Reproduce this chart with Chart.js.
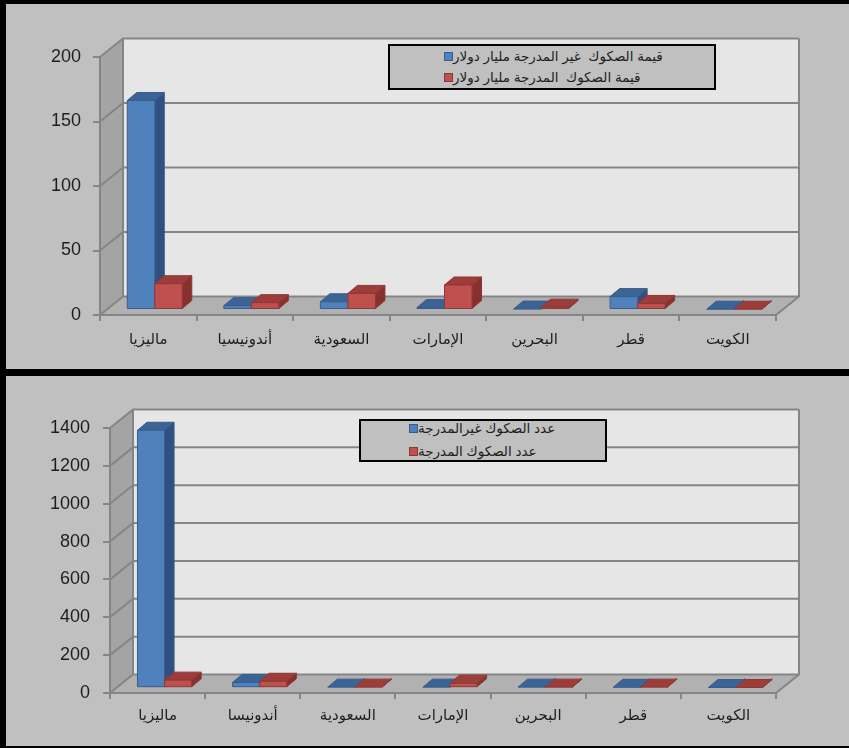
<!DOCTYPE html>
<html>
<head>
<meta charset="utf-8">
<script src="https://cdn.jsdelivr.net/npm/chart.js@4.4.1/dist/chart.umd.min.js"></script>
<style>
    body { margin: 0; background: #000; width: 849px; height: 748px; overflow: hidden; position: relative; font-family: "Liberation Sans", "DejaVu Sans", sans-serif; }
    .panel { position: absolute; left: 6px; width: 843px; background: #c0c0c0; }
    #panel-value { top: 4px; height: 365px; }
    #panel-count { top: 376px; height: 370px; }
    .panel canvas { position: absolute; left: 0; top: 0; }
    .legend { position: absolute; border: 2px solid #000; background: #c0c0c0; box-sizing: border-box; }
    .legend .row { position: absolute; display: flex; align-items: center; height: 18px; }
    .legend .swatch { width: 7px; height: 7px; border: 1px solid; flex: none; }
    .legend .txt { direction: rtl; font-size: 13.5px; color: #1e1e1e; white-space: pre; }
</style>
</head>
<body>
<div class="panel" id="panel-value">
    <canvas id="valueChart" width="843" height="365"></canvas>
    <div class="legend" id="legend-value" style="left:382px; top:40px; width:328px; height:46px;"></div>
</div>
<div class="panel" id="panel-count">
    <canvas id="countChart" width="843" height="370"></canvas>
    <div class="legend" id="legend-count" style="left:353px; top:43px; width:248px; height:43px;"></div>
</div>

<script>
// Countries on the category axis
const valueCountries = ['ماليزيا', 'أندونيسيا', 'السعودية', 'الإمارات', 'البحرين', 'قطر', 'الكويت'];
const countCountries = ['ماليزيا', 'أندونيسا', 'السعودية', 'الإمارات', 'البحرين', 'قطر', 'الكويت'];

// Sukuk value, billion dollars
const unlistedValue = [162, 3, 6, 1.5, 0.3, 10, 0.2];
const listedValue = [20, 5.3, 12.5, 19, 1.8, 4.7, 0.2];

// Number of sukuk issues
const unlistedCount = [1360, 28, 3, 3, 3, 2, 1];
const listedCount = [40, 34, 3, 24, 3, 3, 1];

const valueLegend = ['قيمة الصكوك  غير المدرجة مليار دولار', 'قيمة الصكوك  المدرجة مليار دولار'];
const countLegend = ['عدد الصكوك غيرالمدرجة', 'عدد الصكوك المدرجة'];

const valueTicks = { max: 200, step: 50 };
const countTicks = { max: 1400, step: 200 };

const BLUE = { front: '#4f81bd', top: '#3b6496', side: '#2f5080', edge: '#385d8a' };
const RED = { front: '#c0504d', top: '#9d3d3a', side: '#89302e', edge: '#8c3836' };

const GRID = '#858585';

// Draws back wall, side wall, floor and their gridlines behind the scales
function drawWalls(chart, opts) {
    const ctx = chart.ctx;
    const { left, right, top, bottom } = chart.chartArea;
    const { dx, dy } = opts.depth;
    const y = chart.scales.y;

    ctx.save();
    ctx.fillStyle = '#e6e6e6';
    ctx.fillRect(left + dx, top + dy, right - left, bottom - top);

    ctx.fillStyle = '#a4a4a4';
    ctx.beginPath();
    ctx.moveTo(left, top);
    ctx.lineTo(left + dx, top + dy);
    ctx.lineTo(left + dx, bottom + dy);
    ctx.lineTo(left, bottom);
    ctx.closePath();
    ctx.fill();

    ctx.fillStyle = '#b1b1b1';
    ctx.beginPath();
    ctx.moveTo(left, bottom);
    ctx.lineTo(right, bottom);
    ctx.lineTo(right + dx, bottom + dy);
    ctx.lineTo(left + dx, bottom + dy);
    ctx.closePath();
    ctx.fill();

    ctx.strokeStyle = GRID;
    ctx.lineWidth = 2;
    y.ticks.forEach(t => {
        const py = y.getPixelForValue(t.value);
        ctx.beginPath();
        ctx.moveTo(left, py);
        ctx.lineTo(left + dx, py + dy);
        ctx.lineTo(right + dx, py + dy);
        ctx.stroke();
    });

    ctx.beginPath();
    ctx.moveTo(right + dx, top + dy);
    ctx.lineTo(right + dx, bottom + dy);
    ctx.lineTo(right, bottom);
    ctx.stroke();

    ctx.beginPath();
    ctx.moveTo(left + dx, top + dy);
    ctx.lineTo(left + dx, bottom + dy);
    ctx.stroke();
    ctx.restore();
}

function poly(ctx, pts, fill, edge) {
    ctx.beginPath();
    ctx.moveTo(pts[0][0], pts[0][1]);
    for (let i = 1; i < pts.length; i++) ctx.lineTo(pts[i][0], pts[i][1]);
    ctx.closePath();
    ctx.fillStyle = fill;
    ctx.fill();
    ctx.strokeStyle = edge;
    ctx.lineWidth = 1;
    ctx.stroke();
}

// Boxes for each bar: front face, right side, top face
function drawBars(chart, opts) {
    const ctx = chart.ctx;
    const { fx, fy, bx, by } = opts.bar;
    const metas = chart.data.datasets.map((d, i) => chart.getDatasetMeta(i));
    const count = chart.data.labels.length;

    ctx.save();
    for (let i = 0; i < count; i++) {
        metas.forEach((meta, di) => {
            const c = chart.data.datasets[di].shades;
            const p = meta.data[i].getProps(['x', 'y', 'base', 'width'], true);
            const L = p.x - p.width / 2 + fx;
            const R = p.x + p.width / 2 + fx;
            const T = p.y + fy;
            const B = p.base + fy;

            poly(ctx, [[R, T], [R + bx, T + by], [R + bx, B + by], [R, B]], c.side, c.edge);
            poly(ctx, [[L, T], [R, T], [R + bx, T + by], [L + bx, T + by]], c.top, c.edge);
            if (B - T > 0.5) poly(ctx, [[L, T], [R, T], [R, B], [L, B]], c.front, c.edge);
        });
    }
    ctx.restore();
}

const box3d = {
    id: 'box3d',
    beforeDraw(chart, args, opts) {
        drawWalls(chart, opts);
    },
    beforeDatasetsDraw(chart, args, opts) {
        drawBars(chart, opts);
        return false;
    }
};

function buildLegend(el, chart, rows) {
    chart.data.datasets.forEach((ds, i) => {
        const row = document.createElement('div');
        row.className = 'row';
        row.style.left = rows.left + 'px';
        row.style.top = rows.tops[i] + 'px';
        row.innerHTML = `<span class="swatch" style="background:${ds.shades.front};border-color:${ds.shades.edge}"></span><span class="txt">${ds.label}</span>`;
        el.appendChild(row);
    });
}

function makeChart(canvasId, cfg) {
    return new Chart(document.getElementById(canvasId), {
        type: 'bar',
        data: {
            labels: cfg.labels,
            datasets: [
                { label: cfg.legend[0], data: cfg.series[0], backgroundColor: BLUE.front, shades: BLUE },
                { label: cfg.legend[1], data: cfg.series[1], backgroundColor: RED.front, shades: RED }
            ]
        },
        options: {
            responsive: false,
            animation: false,
            events: [],
            categoryPercentage: 0.57,
            barPercentage: 1.0,
            layout: { padding: { left: 0, top: cfg.areaTop, right: 843 - cfg.areaRight, bottom: 0 } },
            plugins: {
                legend: { display: false },
                tooltip: { enabled: false },
                box3d: { depth: cfg.depth, bar: cfg.bar }
            },
            scales: {
                x: {
                    grid: { offset: true, drawOnChartArea: false, tickLength: 6, color: GRID, lineWidth: 2 },
                    border: { color: GRID, width: 2 },
                    ticks: { color: '#1e1e1e', font: { family: '"Liberation Sans", "DejaVu Sans", sans-serif', size: 15 }, padding: cfg.xPad, maxRotation: 0 },
                    afterFit: s => { s.height = cfg.xHeight; }
                },
                y: {
                    min: 0,
                    max: cfg.ticks.max,
                    grid: { drawOnChartArea: false, tickLength: 7, color: GRID, lineWidth: 2 },
                    border: { color: GRID, width: 2 },
                    ticks: {
                        stepSize: cfg.ticks.step,
                        color: '#1e1e1e',
                        font: { family: '"Liberation Sans", sans-serif', size: 18 },
                        padding: cfg.yPad,
                        callback: v => String(v)
                    },
                    afterFit: s => { s.width = cfg.areaLeft; }
                }
            }
        },
        plugins: [box3d]
    });
}

const valueChart = makeChart('valueChart', {
    labels: valueCountries,
    series: [unlistedValue, listedValue],
    legend: valueLegend,
    ticks: valueTicks,
    areaLeft: 94, areaTop: 53, areaRight: 770, xHeight: 54,
    xPad: 10, yPad: 12,
    depth: { dx: 23, dy: -18.5 },
    bar: { fx: 6.5, fy: -5.5, bx: 9.5, by: -8 }
});

const countChart = makeChart('countChart', {
    labels: countCountries,
    series: [unlistedCount, listedCount],
    legend: countLegend,
    ticks: countTicks,
    areaLeft: 104, areaTop: 52, areaRight: 770, xHeight: 53,
    xPad: 8, yPad: 13,
    depth: { dx: 23, dy: -18.5 },
    bar: { fx: 7, fy: -5.3, bx: 9.5, by: -8 }
});

buildLegend(document.getElementById('legend-value'), valueChart, { left: 54, tops: [1, 22] });
buildLegend(document.getElementById('legend-count'), countChart, { left: 48, tops: [-2, 21] });
</script>
</body>
</html>
